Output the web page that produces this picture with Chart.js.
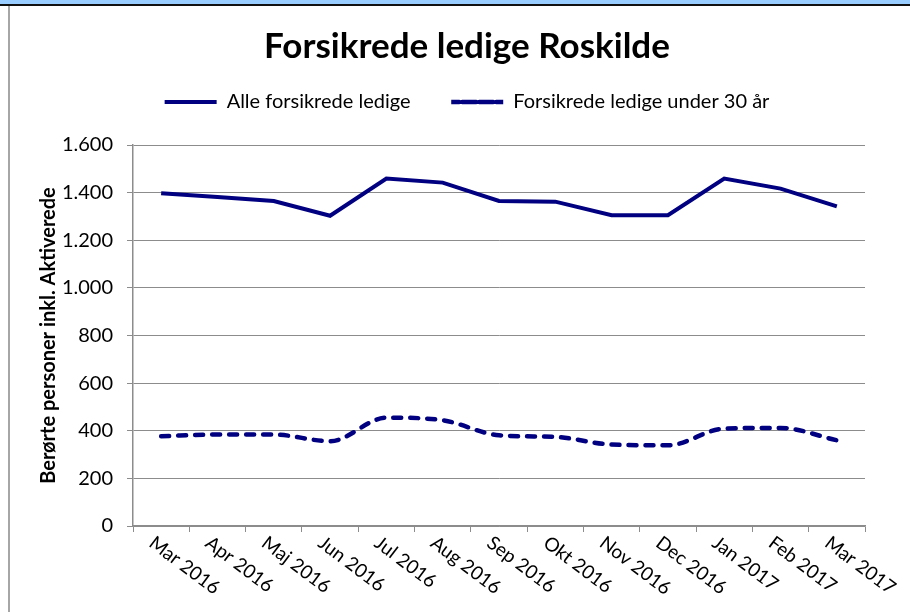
<!DOCTYPE html>
<html>
<head>
<meta charset="utf-8">
<script src="https://cdn.jsdelivr.net/npm/chart.js@4.4.0/dist/chart.umd.min.js"></script>
<style>
  html, body { margin: 0; padding: 0; width: 910px; height: 612px; overflow: hidden; background: #fff; }
  #band { position: absolute; left: 0; top: 0; width: 910px; height: 4px; background: #99ccff; border-bottom: 2px solid #111; }
  #frame { position: absolute; left: 8px; top: 6px; width: 2px; height: 606px; background: #a6a6a6; }
  #wrap { position: absolute; left: 10px; top: 6px; width: 914px; height: 606px; }
</style>
</head>
<body>
<div id="band"></div>
<div id="frame"></div>
<div id="wrap"><canvas id="graph" width="914" height="606"></canvas></div>
<script>
const months = ['Mar 2016', 'Apr 2016', 'Maj 2016', 'Jun 2016', 'Jul 2016', 'Aug 2016', 'Sep 2016',
  'Okt 2016', 'Nov 2016', 'Dec 2016', 'Jan 2017', 'Feb 2017', 'Mar 2017'];
const alleLedige = [1397, 1382, 1365, 1303, 1459, 1442, 1365, 1362, 1305, 1305, 1459, 1417, 1342];
const under30 = [377, 384, 384, 356, 455, 444, 381, 374, 342, 339, 409, 412, 360];
const yTicks = [0, 200, 400, 600, 800, 1000, 1200, 1400, 1600];

const navy = '#000080';
const gridGray = '#8c8c8c';

// danish thousands separator: 1.600
const fmt = (v) => String(v).replace(/\B(?=(\d{3})+(?!\d))/g, '.');

// x labels run downwards to the right, so they are drawn here
const slantLabels = {
  id: 'slantLabels',
  afterDraw(chart) {
    const ctx = chart.ctx;
    const x = chart.scales.x;
    ctx.save();
    ctx.font = '19px Lato';
    ctx.fillStyle = '#000';
    ctx.textAlign = 'left';
    ctx.textBaseline = 'top';
    months.forEach((m, i) => {
      ctx.save();
      ctx.translate(x.getPixelForValue(i) - 4, x.top + 7);
      ctx.rotate(37 * Math.PI / 180);
      ctx.fillText(m, 0, 0);
      ctx.restore();
    });
    ctx.restore();
  }
};

const legendGap = {
  id: 'legendGap',
  beforeInit(chart) {
    const fit = chart.legend.fit;
    chart.legend.fit = function () {
      fit.bind(chart.legend)();
      this.height += 23;
    };
  }
};

const ctx = document.getElementById('graph');
new Chart(ctx, {
  type: 'line',
  data: {
    labels: months,
    datasets: [
      {
        label: 'Alle forsikrede ledige      ',
        data: alleLedige,
        borderColor: navy,
        backgroundColor: navy,
        borderWidth: 4,
        pointRadius: 0,
        tension: 0,
      },
      {
        label: 'Forsikrede ledige under 30 år',
        data: under30,
        borderColor: navy,
        backgroundColor: navy,
        borderWidth: 4.5,
        borderDash: [8, 9],
        borderCapStyle: 'round',
        pointRadius: 0,
        cubicInterpolationMode: 'monotone',
      },
    ],
  },
  options: {
    responsive: false,
    animation: false,
    devicePixelRatio: 1,
    layout: { padding: 0 },
    plugins: {
      title: {
        display: true,
        text: 'Forsikrede ledige Roskilde',
        color: '#000',
        font: { family: 'Lato', size: 35, weight: 'bold' },
        padding: { top: 20, bottom: 14 },
      },
      legend: {
        labels: {
          color: '#000',
          font: { family: 'Lato', size: 20 },
          boxWidth: 52,
          boxHeight: 0,
          padding: 10,
        },
      },
      tooltip: { enabled: false },
    },
    scales: {
      x: {
        offset: true,
        grid: { offset: true, drawOnChartArea: false, drawTicks: true, tickLength: 6, color: gridGray },
        border: { color: gridGray, width: 1.5 },
        ticks: { display: false },
        afterFit(s) { s.height = 86; },
      },
      y: {
        min: 0,
        max: 1600,
        afterBuildTicks(s) { s.ticks = yTicks.map(v => ({ value: v })); },
        grid: { color: gridGray, tickLength: 6, lineWidth: 1 },
        border: { color: gridGray, width: 1.5 },
        ticks: {
          color: '#000',
          font: { family: 'Lato', size: 20 },
          padding: 14,
          callback: (v) => fmt(v),
        },
        title: {
          display: true,
          text: 'Berørte personer inkl. Aktiverede',
          color: '#000',
          font: { family: 'Lato', size: 20, weight: 'bold' },
          padding: { top: 27, bottom: 0 },
        },
        afterFit(s) { s.width = 123; },
      },
      right: {
        position: 'right',
        display: true,
        grid: { display: false },
        border: { display: false },
        ticks: { display: false },
        afterFit(s) { s.width = 59; },
      },
    },
  },
  plugins: [slantLabels, legendGap],
});
</script>
</body>
</html>
